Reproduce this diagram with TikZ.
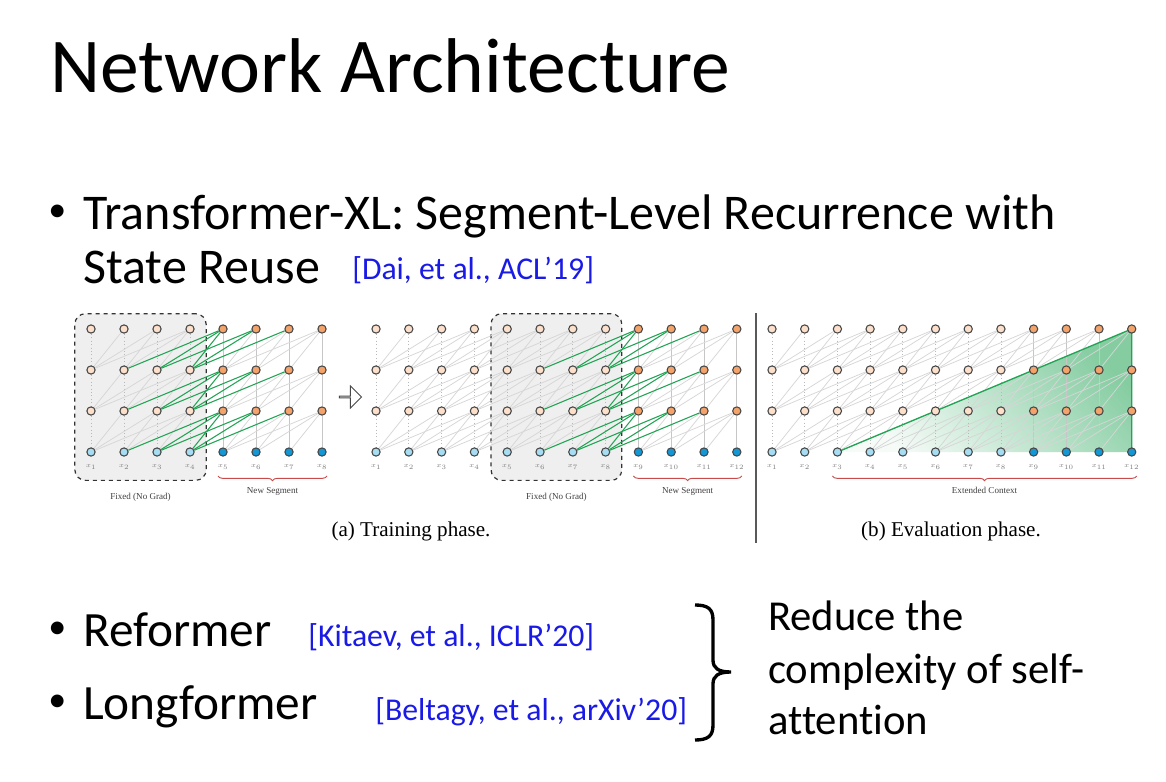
\documentclass[tikz,border=0pt]{standalone}
\usepackage{fontspec}
\setmainfont{Carlito}[Ligatures=NoCommon]
\newfontfamily\figfont{Liberation Serif}
\usepackage{xcolor}
\definecolor{peach}{HTML}{FCE0CB}
\definecolor{amber}{HTML}{F4A36B}
\definecolor{ice}{HTML}{A6DDF2}
\definecolor{ocean}{HTML}{1398D5}
\definecolor{rim}{HTML}{474747}
\definecolor{wire}{HTML}{D6D6D6}
\definecolor{tgreen}{HTML}{22A455}
\definecolor{segred}{HTML}{C84B4B}
\definecolor{citeblue}{HTML}{1A1AE6}
\definecolor{boxgray}{HTML}{EFEFEF}
\usepackage{tikz}
\usetikzlibrary{positioning,shapes.arrows,fit,backgrounds,decorations.pathreplacing}
\tikzset{
  unit/.style={circle,draw=rim,line width=0.8pt,minimum size=6.2pt,inner sep=0pt},
  xlab/.style={font=\fontsize{4.5}{5}\selectfont,text=gray,inner sep=0pt},
  wireln/.style={draw=wire,line width=0.55pt},
  vline/.style={draw=gray!45,line width=0.6pt},
  vlineold/.style={draw=gray!55,line width=0.6pt,dotted},
  hl/.style={draw=tgreen,line width=0.8pt},
  fixedbox/.style={draw=black!80,dashed,line width=0.9pt,fill=boxgray,rounded corners=8pt,inner sep=8pt},
  segbrace/.style={draw=segred,line width=0.7pt,decorate,decoration={brace,mirror,amplitude=3.5pt}},
  bigbrace/.style={draw=black,line width=2.5pt},
  figlbl/.style={font=\figfont\fontsize{6.8}{8}\selectfont,text=black!75,inner sep=1pt},
  caption/.style={font=\figfont\fontsize{15.8}{18}\selectfont,anchor=base,inner sep=0pt},
  nextarr/.style={single arrow,draw=rim,fill=white,line width=0.7pt,minimum height=16.5pt,
    minimum width=16.5pt,single arrow head extend=4pt,inner sep=0pt},
  ctxshade/.style={top color=tgreen!55,bottom color=tgreen!4,shading angle=-45},
  head/.style={anchor=base west,inner sep=0pt,font=\fontsize{58.2}{60}\selectfont},
  item/.style={anchor=base west,inner sep=0pt,font=\fontsize{37}{40}\selectfont},
  bul/.style={anchor=base west,inner sep=0pt,font=\fontsize{27}{29}\selectfont},
  cite/.style={anchor=base west,inner sep=0pt,text=citeblue,font=\fontsize{23.8}{26}\selectfont},
  note/.style={anchor=base west,inner sep=0pt,font=\fontsize{32}{35}\selectfont},
}
% units of one segment picture: name, columns, first x, spacing, first new column
\newcommand{\tcols}[5]{%
  \foreach \i in {1,...,#2} {
    \pgfmathsetmacro{\xx}{#3+(\i-1)*#4}
    \ifnum\i<#5 \def\hidfill{peach}\def\inpfill{ice}\else\def\hidfill{amber}\def\inpfill{ocean}\fi
    \node[unit,fill=\inpfill] (#1-\i-0) at (\xx,452) {};
    \foreach \l in {1,2,3}
      \node[unit,fill=\hidfill] (#1-\i-\l) at (\xx,{452-41*\l}) {};
    \node[xlab] (#1-x\i) at (\xx,467) {$x_{\i}$};
  }
}
% links to the layer below: name, columns, first new column, green (1/0), pass (0 grey, 1 green)
\newcommand{\tlinks}[5]{%
  \foreach \i in {1,...,#2} \foreach \l in {1,2,3} {
    \pgfmathtruncatemacro{\k}{\l-1}
    \ifnum#5=0
      \ifnum\i<#3 \def\vst{vlineold}\else\def\vst{vline}\fi
      \draw[\vst] (#1-\i-\l) -- (#1-\i-\k);
    \fi
    \foreach \d in {1,2,3} {
      \pgfmathtruncatemacro{\j}{\i-\d}
      \def\hot{0}\def\est{wireln}
      \ifnum#4=1 \ifnum\i<#3 \else\ifnum\j<#3 \def\hot{1}\def\est{hl}\fi\fi\fi
      \ifnum\j>0 \ifnum\hot=#5 \draw[\est] (#1-\i-\l) -- (#1-\j-\k);\fi\fi
    }
  }
}
\begin{document}
\begin{tikzpicture}[x=0.75pt,y=-0.75pt]
  \useasboundingbox (0,0) rectangle (1166,781);
  \node[head] (title) at (50,93) {Network Architecture};
  \node[bul] (dot1) at (48,221) {•};
  \node[item,font=\fontsize{37.5}{40}\selectfont] (txl1) at (83,229) {Transformer-XL: Segment-Level Recurrence with};
  \node[item,font=\fontsize{37.5}{40}\selectfont] (txl2) at (83,283) {State Reuse};
  \node[cite] (dai) at (352,279) {[Dai, et al., ACL’19]};
  % figure: training and evaluation
  \tcols{a}{8}{91}{33}{5}
  \tcols{t}{12}{376}{32.8}{9}
  \tcols{e}{12}{772}{32.7}{9}
  \begin{scope}[on background layer]
    \fill[white] (0,0) rectangle (1166,781);
    \node[fixedbox,fit=(a-1-3)(a-4-0)(a-x1)(a-x4)] (fixa) {};
    \node[fixedbox,fit=(t-5-3)(t-8-0)(t-x5)(t-x8)] (fixt) {};
    \shade[ctxshade] (e-3-0.center) -- (e-12-3.center) -- (e-12-0.center) -- cycle;
    \tlinks{a}{8}{5}{1}{0}
    \tlinks{t}{12}{9}{1}{0}
    \tlinks{e}{12}{9}{0}{0}
    \tlinks{a}{8}{5}{1}{1}
    \tlinks{t}{12}{9}{1}{1}
    \draw[hl,line width=1pt] (e-3-0.center) -- (e-12-3.center) -- (e-12-0.center);
  \end{scope}
  \node[figlbl,below=8pt of fixa] (a-fix) {Fixed (No Grad)};
  \node[figlbl,below=8pt of fixt] (t-fix) {Fixed (No Grad)};
  \draw[segbrace] ([shift={(-5,9)}]a-x5.center) -- ([shift={(5,9)}]a-x8.center)
    node[figlbl,midway,below=7pt] (a-new) {New Segment};
  \draw[segbrace] ([shift={(-5,9)}]t-x9.center) -- ([shift={(5,9)}]t-x12.center)
    node[figlbl,midway,below=7pt] (t-new) {New Segment};
  \draw[segbrace] ([shift={(-5,9)}]e-x3.center) -- ([shift={(5,9)}]e-x12.center)
    node[figlbl,midway,below=7pt] (e-ctx) {Extended Context};
  \node[nextarr] (go) at (350,397) {};
  \coordinate (sepTop) at (756,313);
  \coordinate (sepBot) at (756,543);
  \draw[black!65,line width=1.1pt] (sepTop) -- (sepBot);
  \node[caption] (capa) at (411,536) {(a) Training phase.};
  \node[caption] (capb) at (951,536) {(b) Evaluation phase.};
  % efficient variants
  \node[bul] (dot2) at (48,638) {•};
  \node[item] (refo) at (83,646) {Reformer};
  \node[cite] (kit) at (308,646) {[Kitaev, et al., ICLR’20]};
  \node[bul] (dot3) at (48,711) {•};
  \node[item] (longf) at (83,719) {Longformer};
  \node[cite] (bel) at (375,720) {[Beltagy, et al., arXiv’20]};
  \coordinate (brTop) at (695,605);
  \coordinate (brBot) at (695,740);
  \draw[bigbrace] (brTop) .. controls (708,605) and (713,609) .. (713,620) -- (713,660)
    .. controls (713,668) and (718,672) .. (731,672) .. controls (718,672) and (713,676) .. (713,684)
    -- (713,725) .. controls (713,736) and (708,740) .. (brBot);
  \node[note] (red1) at (768,630) {Reduce the};
  \node[note] (red2) at (768,683) {complexity of self-};
  \node[note] (red3) at (768,734) {attention};
\end{tikzpicture}
\end{document}
